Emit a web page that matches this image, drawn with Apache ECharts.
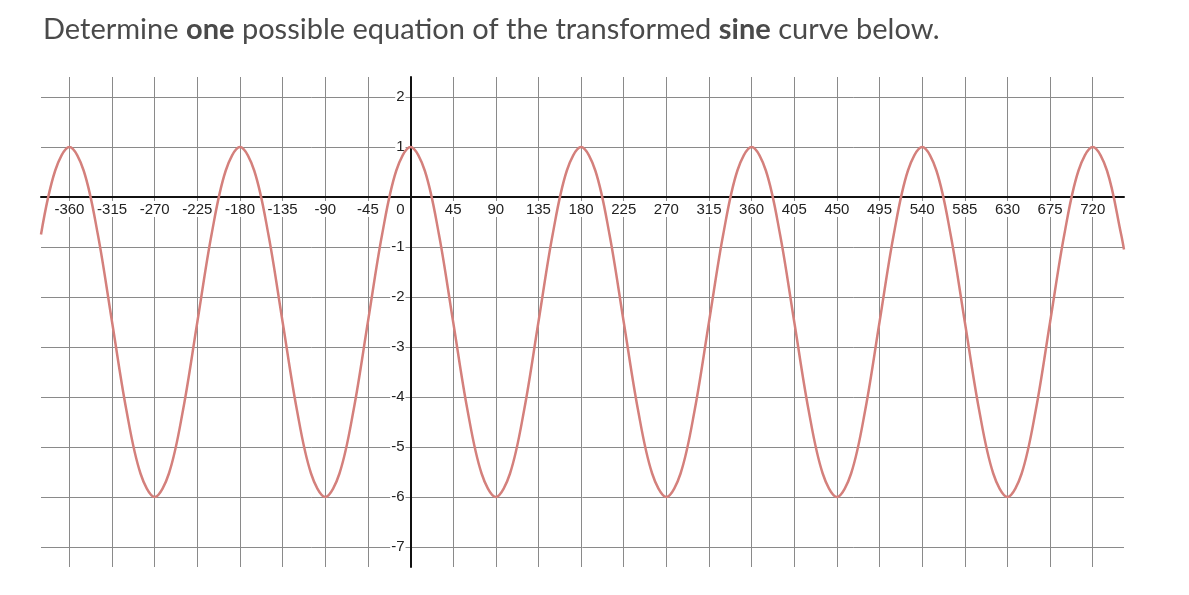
<!DOCTYPE html>
<html>
<head>
<meta charset="utf-8">
<script src="https://cdn.jsdelivr.net/npm/echarts@6/dist/echarts.min.js"></script>
<style>
html,body{margin:0;padding:0;background:#fff;}
#chart{width:1189px;height:595px;}
</style>
</head>
<body>
<div id="chart"></div>
<script>
// x values in degrees
const xDegrees = [
  -390,-375,-360,-345,-330,-315,-300,-285,-270,-255,-240,-225,
  -210,-195,-180,-165,-150,-135,-120,-105,-90,-75,-60,-45,
  -30,-15,0,15,30,45,60,75,90,105,120,135,
  150,165,180,195,210,225,240,255,270,285,300,315,
  330,345,360,375,390,405,420,435,450,465,480,495,
  510,525,540,555,570,585,600,615,630,645,660,675,
  690,705,720,735,750,753
];
// curve values (max 1, min -6)
const yValues = [
  -0.75,0.53,1,0.53,-0.75,-2.5,-4.25,-5.53,-6,-5.53,-4.25,-2.5,
  -0.75,0.53,1,0.53,-0.75,-2.5,-4.25,-5.53,-6,-5.53,-4.25,-2.5,
  -0.75,0.53,1,0.53,-0.75,-2.5,-4.25,-5.53,-6,-5.53,-4.25,-2.5,
  -0.75,0.53,1,0.53,-0.75,-2.5,-4.25,-5.53,-6,-5.53,-4.25,-2.5,
  -0.75,0.53,1,0.53,-0.75,-2.5,-4.25,-5.53,-6,-5.53,-4.25,-2.5,
  -0.75,0.53,1,0.53,-0.75,-2.5,-4.25,-5.53,-6,-5.53,-4.25,-2.5,
  -0.75,0.53,1,0.53,-0.75,-1.05
];
const xTicks = [-360,-315,-270,-225,-180,-135,-90,-45,0,45,90,135,180,225,270,315,360,405,450,495,540,585,630,675,720];
const yTicks = [-7,-6,-5,-4,-3,-2,-1,0,1,2];
const yLabelTicks = [-7,-6,-5,-4,-3,-2,-1,1,2];
const titleParts = ['Determine ', 'one', ' possible equation of the transformed ', 'sine', ' curve below.'];

const X_MIN = -390, X_MAX = 753, Y_MIN = -7.4, Y_MAX = 2.4;
const GRID = {left: 41, right: 65, top: 77, bottom: 28};
const W = 1189, H = 595;
const plotW = W - GRID.left - GRID.right;
const plotH = H - GRID.top - GRID.bottom;
// shift axes so they sit on the zero lines
const xAxisOffset = -plotH * (0 - Y_MIN) / (Y_MAX - Y_MIN);
const yAxisOffset = -plotW * (0 - X_MIN) / (X_MAX - X_MIN);

const chart = echarts.init(document.getElementById('chart'), null, {renderer:'canvas'});
const labelFont = "'Liberation Sans', Arial, sans-serif";
const seriesData = xDegrees.map((x, i) => [x, yValues[i]]);

chart.setOption({
  animation: false,
  backgroundColor: '#fff',
  title: {
    left: 38,
    top: 10,
    text: '{n|' + titleParts[0] + '}{b|' + titleParts[1] + '}{n|' + titleParts[2] + '}{b|' + titleParts[3] + '}{n|' + titleParts[4] + '}',
    textStyle: {
      rich: {
        n: {fontFamily: 'Lato', fontSize: 29, color: '#4a4a4a', fontWeight: 'normal'},
        b: {fontFamily: 'Lato', fontSize: 29, color: '#4a4a4a', fontWeight: 'bold'}
      }
    }
  },
  grid: Object.assign({containLabel: false}, GRID),
  xAxis: {
    type: 'value',
    min: X_MIN,
    max: X_MAX,
    position: 'bottom',
    offset: xAxisOffset,
    z: 3,
    axisLine: {show: true, onZero: false, lineStyle: {color: '#111', width: 2}},
    axisTick: {show: false, customValues: xTicks},
    splitLine: {show: true, lineStyle: {color: '#8a8a8a', width: 1}},
    axisLabel: {
      customValues: xTicks,
      margin: 4,
      formatter: v => v === 0 ? '{z|0}{p| }' : '{a|' + v + '}',
      rich: {
        a: {fontFamily: labelFont, fontSize: 15, color: '#222', backgroundColor: '#fff', padding: [1, 2, 0, 2]},
        z: {fontFamily: labelFont, fontSize: 15, color: '#222', backgroundColor: '#fff', padding: [1, 2, 0, 2]},
        p: {fontFamily: labelFont, fontSize: 15, width: 20}
      }
    }
  },
  yAxis: {
    type: 'value',
    min: Y_MIN,
    max: Y_MAX,
    position: 'left',
    offset: yAxisOffset,
    z: 3,
    axisLine: {show: true, onZero: false, lineStyle: {color: '#111', width: 2}},
    axisTick: {show: false, customValues: yTicks},
    splitLine: {show: true, lineStyle: {color: '#8a8a8a', width: 1}},
    axisLabel: {
      customValues: yLabelTicks,
      margin: 5,
      fontFamily: labelFont,
      fontSize: 15,
      color: '#222',
      backgroundColor: '#fff',
      padding: [1, 1, 0, 1]
    }
  },
  series: [{
    type: 'line',
    data: seriesData,
    smooth: 0.35,
    showSymbol: false,
    symbol: 'none',
    clip: true,
    z: 5,
    lineStyle: {color: '#d4807c', width: 2.5}
  }]
});
</script>
</body>
</html>
